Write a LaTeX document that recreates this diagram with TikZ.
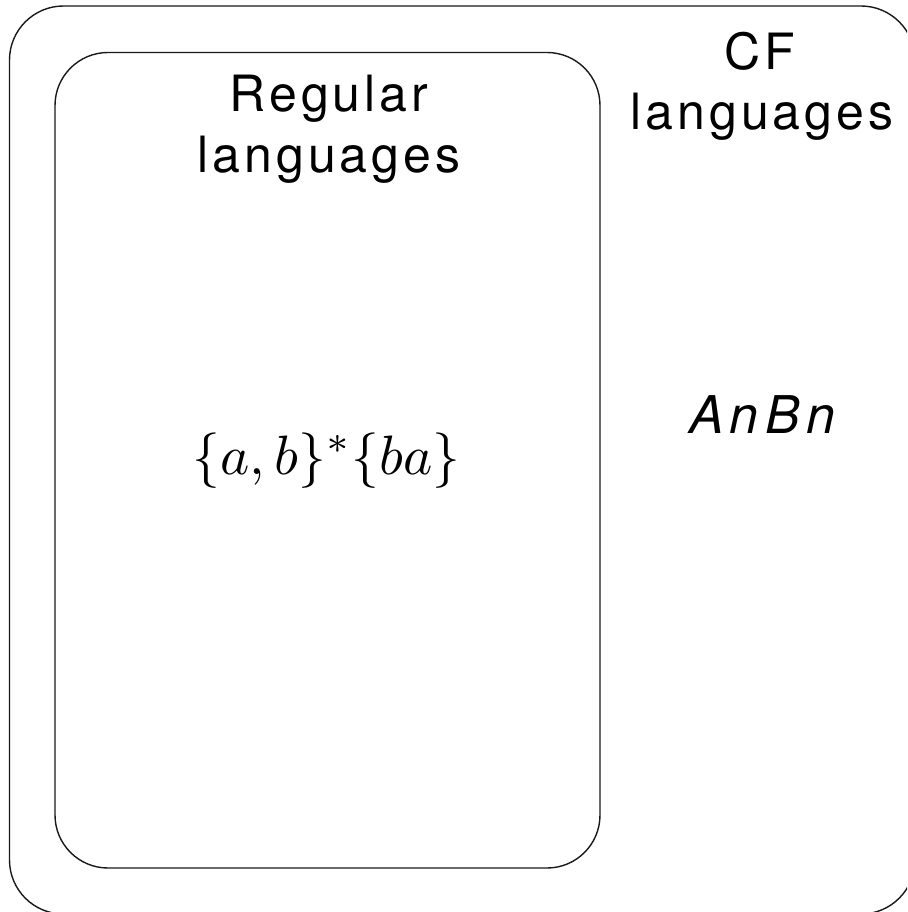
\documentclass[tikz,border=0pt]{standalone}
\usepackage{graphicx}
\usepackage{fontspec}
\newfontfamily\helv[LetterSpace=8]{TeX Gyre Heros}
\newfontfamily\helvwide[LetterSpace=12]{TeX Gyre Heros}
\begin{document}
\begin{tikzpicture}[x=1pt,y=1pt,
  setbox/.style={draw=black!90, line width=1.4pt, inner sep=0pt},
  lbl/.style={anchor=base, inner sep=0pt, font=\helv\fontsize{50}{61}\selectfont},
  mathlbl/.style={anchor=base, inner sep=0pt}]
  \useasboundingbox (0,0) rectangle (907,-912);
  \clip (0,0) rectangle (907,-912);
  % outer set: context-free languages
  \node[setbox, rounded corners=54pt, minimum width=905.5pt, minimum height=908pt]
    (cf) at (462.25,-460) {};
  % inner set: regular languages
  \node[setbox, rounded corners=53pt, minimum width=545pt, minimum height=815.5pt]
    (reg) at (327.5,-460.25) {};
  % set titles
  \node[lbl] (regA) at (329,-112) {Regular};
  \node[lbl] (regB) at (329,-173) {languages};
  \node[lbl] (cfA) at (760,-70) {CF};
  \node[lbl] (cfB) at (762,-130) {languages};
  % members
  \node[mathlbl] (ex) at (326.5,-474) {\scalebox{5.55}{$\{a,b\}^*\{ba\}$}};
  \node[lbl, font=\helvwide\itshape\fontsize{52}{60}\selectfont] (anbn) at (762,-433) {AnBn};
\end{tikzpicture}
\end{document}
